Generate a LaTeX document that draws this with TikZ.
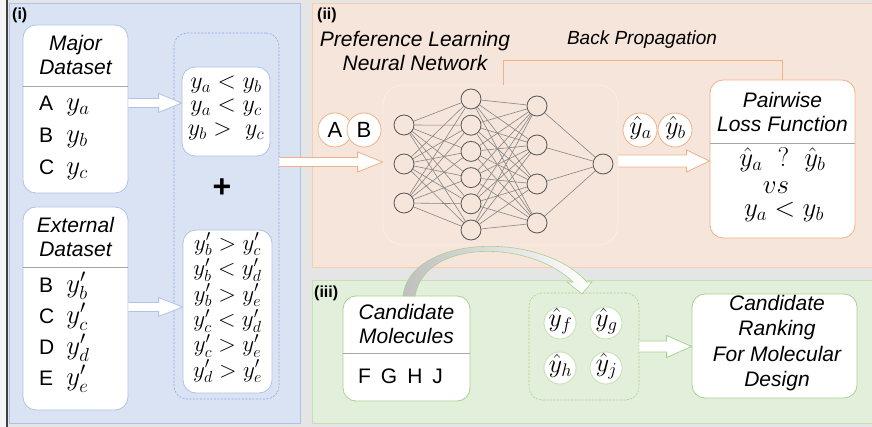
\RequirePackage{fix-cm}
\documentclass[tikz,border=0pt]{standalone}
\usepackage{fontspec}
\setmainfont{Liberation Sans}
\usetikzlibrary{calc}
\definecolor{bggray}{HTML}{E5E5E5}
\definecolor{blueP}{HTML}{DAE3F3}
\definecolor{blueL}{HTML}{AFC3E6}
\definecolor{blueD}{HTML}{8FAADC}
\definecolor{orangeP}{HTML}{F5E5DA}
\definecolor{orangeL}{HTML}{F2B085}
\definecolor{orangeB}{HTML}{F6CDB0}
\definecolor{greenP}{HTML}{E2EFDA}
\definecolor{greenL}{HTML}{A9D18E}
\definecolor{greenB}{HTML}{C5E0B4}
\definecolor{hline}{HTML}{A6A6A6}
\definecolor{nnline}{HTML}{858585}
\definecolor{nncirc}{HTML}{555555}
\newcommand{\yval}[1]{{\fontsize{27}{27}\selectfont$#1$}}
\newcommand{\tightlines}{\lineskiplimit=-30pt\relax}
\newcommand{\barrow}[6]{%
 \fill[white] let \p1=#2, \p2=#3 in (\x1,\y1+#4) -- (\x2-#6,\y1+#4) -- (\x2-#6,\y1+#5) -- (\x2,\y1) -- (\x2-#6,\y1-#5) -- (\x2-#6,\y1-#4) -- (\x1,\y1-#4) -- cycle;
 \draw[#1, line width=0.8pt, line join=miter] let \p1=#2, \p2=#3 in (\x1,\y1+#4) -- (\x2-#6,\y1+#4) -- (\x2-#6,\y1+#5) -- (\x2,\y1) -- (\x2-#6,\y1-#5) -- (\x2-#6,\y1-#4) -- (\x1,\y1-#4);}
\begin{document}
\begin{tikzpicture}[x=1pt,y=-1pt,
  box/.style={draw=#1, fill=white, rounded corners=13pt, line width=0.8pt, inner sep=0pt},
  dbox/.style={draw=#1, rounded corners=13pt, line width=0.6pt, dash pattern=on 2pt off 1.5pt, inner sep=0pt},
  hl/.style={draw=hline, line width=0.8pt},
  ttl/.style={font=\fontsize{21}{24}\selectfont\itshape, align=center, inner sep=0pt},
  rows/.style={font=\fontsize{21}{#1}\selectfont, inner sep=0pt},
  pairtxt/.style={font={\fontsize{#1}{#1}\selectfont\tightlines}, align=center, inner sep=0pt},
  lbl/.style={font=\fontsize{16}{16}\selectfont\bfseries, inner sep=0pt, anchor=west},
  neuron/.style={circle, draw=nncirc, fill=orangeP, line width=0.8pt, minimum size=20pt, inner sep=0pt},
  nnl/.style={draw=nnline, line width=0.6pt},
  bubble/.style={circle, draw=#1, fill=white, line width=0.8pt, inner sep=0pt, font=\fontsize{22}{22}\selectfont},
  mbub/.style={font=\fontsize{26}{26}\selectfont, inner sep=0pt},
  pwm/.style={font=\fontsize{27}{27}\selectfont, inner sep=0pt},
]
\useasboundingbox (0,0) rectangle (872,427);
% background and panels
\fill[bggray] (0,0) rectangle (872,427);
\fill[white!60!bggray] (0,0) rectangle (6,427);
\draw[black!75, line width=2pt] (7,0) -- (7,427);
\filldraw[fill=blueP, draw=blueL, line width=0.8pt] (9,3) rectangle (300,423);
\filldraw[fill=orangeP, draw=orangeB, line width=0.8pt] (312,3) rectangle (874,267);
\filldraw[fill=greenP, draw=greenB, line width=0.8pt] (312,280) rectangle (874,423);
\node[lbl] (lab1) at (12,15) {(i)};
\node[lbl] (lab2) at (317,15) {(ii)};
\node[lbl] (lab3) at (314,293) {(iii)};

% ---------- panel (i)
\node[box=blueL, minimum width=105pt, minimum height=168pt] (major) at (75.5,109) {};
\draw[hl] (major.west |- 0,86) -- (major.east |- 0,86);
\node[ttl] (majort) at (75.5,55) {Major\\Dataset};
\node[rows=32, anchor=west] (majorr) at (39,136) {\begin{tabular}{@{}l@{\hspace{12pt}}l@{}}A & \yval{y_a}\\B & \yval{y_b}\\C & \yval{y_c}\end{tabular}};

\node[box=blueL, minimum width=105pt, minimum height=203pt] (ext) at (75.5,308.5) {};
\draw[hl] (ext.west |- 0,267) -- (ext.east |- 0,267);
\node[ttl] (extt) at (75.5,237) {External\\Dataset};
\node[rows=31, anchor=west] (extr) at (39,333) {\begin{tabular}{@{}l@{\hspace{12pt}}l@{}}B & \yval{y'_b}\\C & \yval{y'_c}\\D & \yval{y'_d}\\E & \yval{y'_e}\end{tabular}};

\node[dbox=blueD, minimum width=105pt, minimum height=366pt] (pairs) at (226.5,216) {};
\node[box=blueL, minimum width=88pt, minimum height=89pt] (pairA) at (226,111.5) {};
\node[pairtxt=24, font={\fontsize{24}{23.5}\selectfont\tightlines}] (pairAt) at (226,108) {$y_a<y_b$\\$y_a<y_c$\\$y_b>\ y_c$};
\node[font=\fontsize{32}{32}\selectfont\bfseries, inner sep=0pt] (plus) at (222,188) {+};
\node[box=blueL, minimum width=89pt, minimum height=163pt] (pairB) at (227.5,311.5) {};
\node[pairtxt=23, font={\fontsize{23}{25.4}\selectfont\tightlines}] (pairBt) at (227.5,308) {$y'_b>y'_c$\\$y'_b<y'_d$\\$y'_b>y'_e$\\$y'_c<y'_d$\\$y'_c>y'_e$\\$y'_d>y'_e$};

\barrow{blueL}{(major.east |- 0,103)}{(pairA.west)}{4.5pt}{9.5pt}{23pt}
\barrow{blueL}{(ext.east |- 0,307)}{(pairB.west)}{4.5pt}{9.5pt}{24pt}

% ---------- panel (ii)
\node[ttl] (nntitle) at (415,51) {Preference Learning\\Neural Network};
\node[font=\fontsize{19}{19}\selectfont\itshape, inner sep=0pt] (bp) at (642,40) {Back Propagation};
\node[draw={rgb,255:red,251;green,238;blue,228}, line width=0.8pt, rounded corners=20pt, minimum width=235pt, minimum height=160pt, inner sep=0pt] (nn) at (500.5,165) {};
\barrow{orangeL}{(pairs.east |- 0,162)}{(nn.west)}{4.5pt}{10pt}{25pt}

\foreach \i/\y in {1/125,2/164,3/203} \node[neuron] (a\i) at (404,\y) {};
\foreach \i/\y in {1/99,2/125.2,3/151.4,4/177.6,5/203.8,6/230} \node[neuron] (b\i) at (471,\y) {};
\foreach \i/\y in {1/106,2/145,3/184,4/223} \node[neuron] (c\i) at (537,\y) {};
\node[neuron] (o1) at (603,164) {};
\foreach \i in {1,2,3} \foreach \j in {1,...,6} \draw[nnl] (a\i) -- (b\j);
\foreach \i in {1,...,6} \foreach \j in {1,...,4} \draw[nnl] (b\i) -- (c\j);
\foreach \i in {1,...,4} \draw[nnl] (c\i) -- (o1);

\node[bubble=orangeL, minimum size=34pt] (inA) at (335,130) {A};
\node[bubble=orangeL, minimum size=34pt] (inB) at (364,130) {B};
\node[bubble=orangeL, minimum size=34pt] (outA) at (640,130) {};
\node[bubble=orangeL, minimum size=34pt] (outB) at (675,130) {};
\node[mbub] (outAt) at (640.5,128) {$\hat{y}_a$};
\node[mbub] (outBt) at (675.5,128) {$\hat{y}_b$};

\node[box=orangeL, minimum width=145pt, minimum height=158pt] (pw) at (782.5,159) {};
\draw[hl] (pw.west |- 0,143) -- (pw.east |- 0,143);
\node[ttl] (pwt) at (782.5,112) {Pairwise\\Loss Function};
\node[pwm] (pw1) at (782.5,160) {$\hat{y}_a\ \ ?\ \ \hat{y}_b$};
\node[pwm] (pw2) at (776,188) {$vs$};
\node[pwm] (pw3) at (784,212) {$y_a<y_b$};
\draw[orangeL, line width=0.8pt] ($(nn.north)+(2.5,0)$) -- ++(0,-24) -| (pw.north);
\barrow{orangeL}{(nn.east |- 0,161)}{(pw.west)}{6pt}{11pt}{23pt}

% ---------- panel (iii)
\node[box=greenL, minimum width=127pt, minimum height=105pt] (cm) at (406.5,348.5) {};
\draw[hl] (cm.west |- 0,353) -- (cm.east |- 0,353);
\node[ttl] (cmt) at (406.5,324) {Candidate\\Molecules};
\node[font=\fontsize{21}{21}\selectfont, inner sep=0pt] (cml) at (400.5,376) {F\hspace{10pt}G\hspace{10pt}H\hspace{10pt}J};

\path[left color=gray!50, right color=white, draw=greenL, line width=0.6pt, line join=miter]
  (403,296) .. controls (410,235) and (540,230) .. (587,282) -- (592,282) -- (582,294) -- (567,282) -- (573,282)
  .. controls (530,240) and (425,238) .. (415,296) -- cycle;

\node[dbox=greenL, minimum width=110pt, minimum height=107pt] (yh) at (584,346.5) {};
\node[bubble=greenB, minimum size=32pt] (yf) at (560,323) {};
\node[bubble=greenB, minimum size=32pt] (yg) at (606,323) {};
\node[bubble=greenB, minimum size=32pt] (yhh) at (560,368) {};
\node[bubble=greenB, minimum size=32pt] (yj) at (606,368) {};
\node[mbub] (yft) at (560.5,321) {$\hat{y}_f$};
\node[mbub] (ygt) at (606.5,321) {$\hat{y}_g$};
\node[mbub] (yht) at (560.5,366) {$\hat{y}_h$};
\node[mbub] (yjt) at (606.5,366) {$\hat{y}_j$};

\node[box=greenL, minimum width=165pt, minimum height=104pt] (rank) at (774.5,346) {};
\node[ttl, font=\fontsize{21}{25.3}\selectfont\itshape] (rankt) at (777,343) {Candidate\\Ranking\\For Molecular\\Design};
\barrow{greenL}{(yh.east |- 0,346.5)}{(rank.west)}{5.5pt}{11pt}{25pt}
\end{tikzpicture}
\end{document}
